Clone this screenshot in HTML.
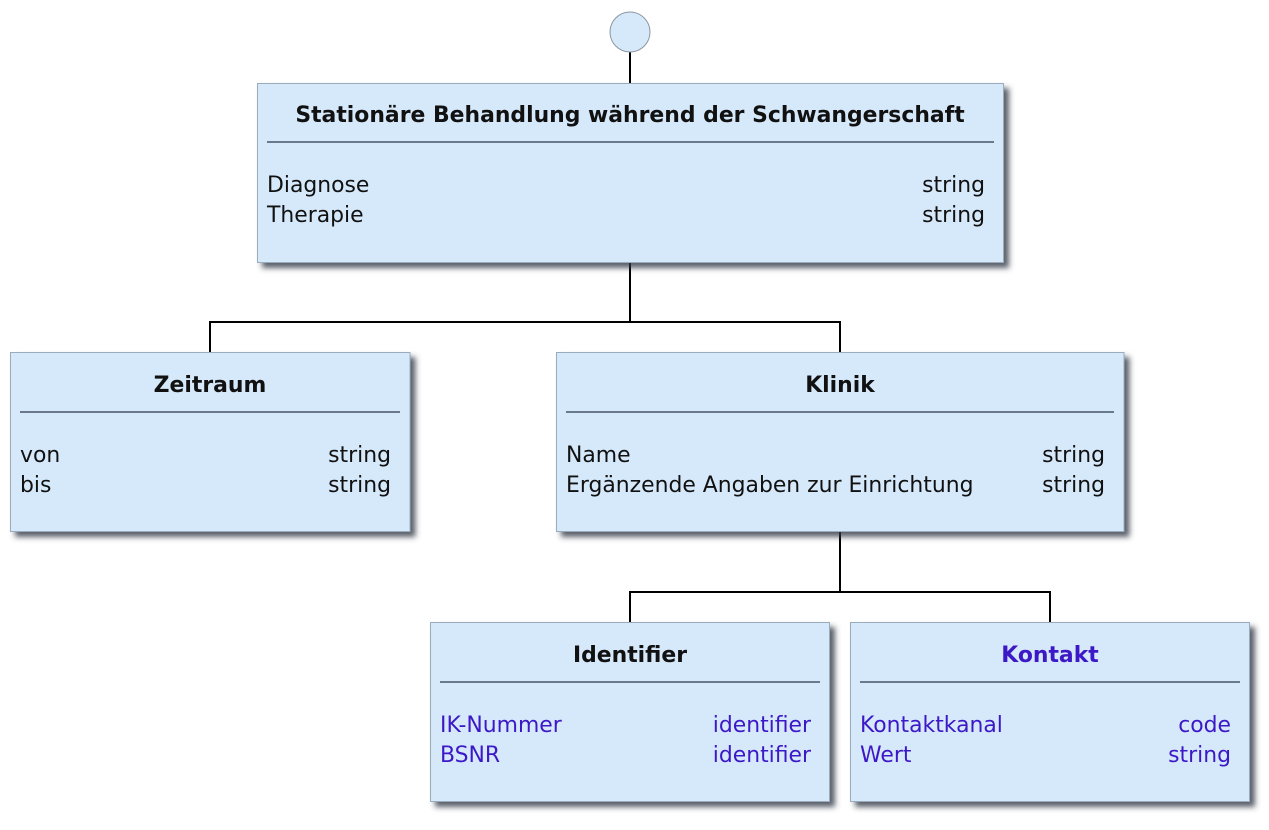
<!DOCTYPE html>
<html>
<head>
<meta charset="utf-8">
<style>
  html, body { margin:0; padding:0; background:#ffffff; }
  body { width:1269px; height:830px; overflow:hidden; }
  svg { display:block; }
  text { font-family: "DejaVu Sans", "Liberation Sans", sans-serif; font-size:21.9px; }
  .t { font-weight:bold; fill:#111111; }
  .a { fill:#111111; }
  .p { fill:#3c18c6; }
  .box { fill:#d6e9fb; stroke:#9aabbd; stroke-width:1; }
  .div { stroke:#6a7a8c; stroke-width:2; }
  .ln { stroke:#000; stroke-width:2; fill:none; }
</style>
</head>
<body>
<svg width="1269" height="830" viewBox="0 0 1269 830" xmlns="http://www.w3.org/2000/svg">
  <defs>
    <filter id="sh" x="-5%" y="-5%" width="115%" height="120%">
      <feDropShadow dx="5" dy="5" stdDeviation="2.8" flood-color="#2e3844" flood-opacity="0.8"/>
    </filter>
  </defs>

  <!-- connectors -->
  <line class="ln" x1="630" y1="52" x2="630" y2="83"/>
  <polyline class="ln" points="630,262 630,322"/>
  <polyline class="ln" points="210,353 210,322 840,322 840,353"/>
  <polyline class="ln" points="840,532 840,592"/>
  <polyline class="ln" points="630,623 630,592 1050,592 1050,623"/>

  <!-- start circle -->
  <circle cx="630" cy="32" r="20" fill="#d6e9fb" stroke="#8c96a0" stroke-width="1"/>

  <!-- Top box -->
  <rect class="box" x="257.5" y="83.5" width="746" height="179" filter="url(#sh)"/>
  <text class="t" x="630" y="122" text-anchor="middle">Stationäre Behandlung während der Schwangerschaft</text>
  <line class="div" x1="267" y1="142" x2="994" y2="142"/>
  <text class="a" x="267" y="192">Diagnose</text>
  <text class="a" x="985" y="192" text-anchor="end">string</text>
  <text class="a" x="267" y="222">Therapie</text>
  <text class="a" x="985" y="222" text-anchor="end">string</text>

  <!-- Zeitraum -->
  <rect class="box" x="10.5" y="352.5" width="399.5" height="179" filter="url(#sh)"/>
  <text class="t" x="210" y="392" text-anchor="middle">Zeitraum</text>
  <line class="div" x1="20" y1="412" x2="400" y2="412"/>
  <text class="a" x="20" y="462">von</text>
  <text class="a" x="391" y="462" text-anchor="end">string</text>
  <text class="a" x="20" y="492">bis</text>
  <text class="a" x="391" y="492" text-anchor="end">string</text>

  <!-- Klinik -->
  <rect class="box" x="556.5" y="352.5" width="567.5" height="179" filter="url(#sh)"/>
  <text class="t" x="840" y="392" text-anchor="middle">Klinik</text>
  <line class="div" x1="566" y1="412" x2="1114" y2="412"/>
  <text class="a" x="566" y="462">Name</text>
  <text class="a" x="1105" y="462" text-anchor="end">string</text>
  <text class="a" x="566" y="492">Ergänzende Angaben zur Einrichtung</text>
  <text class="a" x="1105" y="492" text-anchor="end">string</text>

  <!-- Identifier -->
  <rect class="box" x="430.5" y="622.5" width="399" height="179" filter="url(#sh)"/>
  <text class="t" x="630" y="662" text-anchor="middle">Identifier</text>
  <line class="div" x1="440" y1="682" x2="820" y2="682"/>
  <text class="p" x="440" y="732">IK-Nummer</text>
  <text class="p" x="811" y="732" text-anchor="end">identifier</text>
  <text class="p" x="440" y="762">BSNR</text>
  <text class="p" x="811" y="762" text-anchor="end">identifier</text>

  <!-- Kontakt -->
  <rect class="box" x="850.5" y="622.5" width="399" height="179" filter="url(#sh)"/>
  <text class="t" x="1050" y="662" text-anchor="middle" style="fill:#3c18c6">Kontakt</text>
  <line class="div" x1="860" y1="682" x2="1240" y2="682"/>
  <text class="p" x="860" y="732">Kontaktkanal</text>
  <text class="p" x="1231" y="732" text-anchor="end">code</text>
  <text class="p" x="860" y="762">Wert</text>
  <text class="p" x="1231" y="762" text-anchor="end">string</text>
</svg>
</body>
</html>
